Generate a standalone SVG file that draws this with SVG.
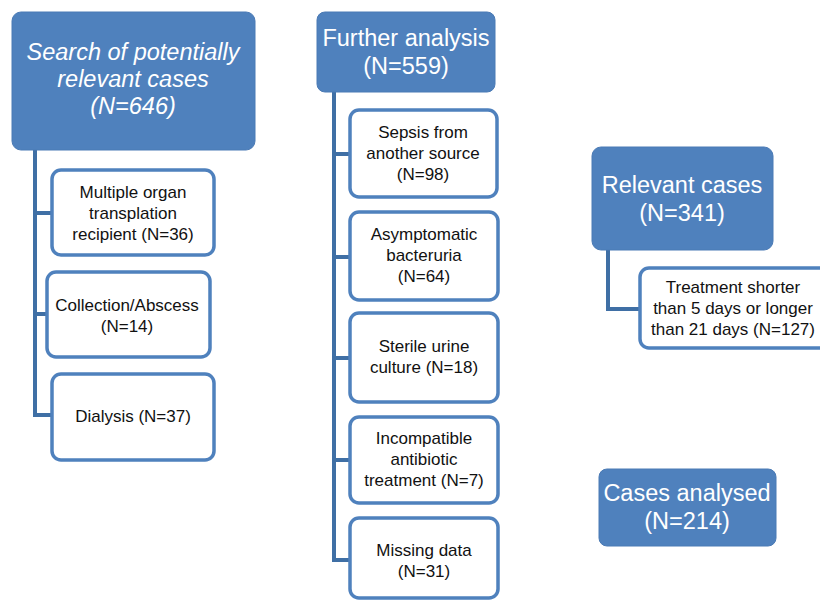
<svg xmlns="http://www.w3.org/2000/svg" width="820" height="600" viewBox="0 0 820 600">
<style>
.hd{fill:#4F81BD;stroke:#4A7AB5;stroke-width:1}
.ch{fill:#FFFFFF;stroke:#4F81BD;stroke-width:3.5}
.ht{font-family:"Liberation Sans",Arial,sans-serif;font-size:23.5px;fill:#FFFFFF;text-anchor:middle}
.it{font-style:italic}
.ct{font-family:"Liberation Sans",Arial,sans-serif;font-size:17px;fill:#111111;text-anchor:middle}
.cn{fill:none;stroke:#3F6FA5;stroke-width:4}
</style>
<rect width="820" height="600" fill="#FFFFFF"/>
<g id="connectors">
<path class="cn" d="M35 150 V415 H52 M35 213 H52 M35 314 H47"/>
<path class="cn" d="M334 92 V560 H350 M334 154 H350 M334 257 H350 M334 358 H350 M334 460 H350"/>
<path class="cn" d="M608 250 V309 H640"/>
</g>
<g id="search">
<rect class="hd" x="12" y="12" width="243" height="138" rx="9"/>
<text class="ht it" x="133" y="60">Search of potentially</text>
<text class="ht it" x="133" y="87">relevant cases</text>
<text class="ht it" x="133" y="114">(N=646)</text>
</g>
<g id="multiple">
<rect class="ch" x="52" y="170" width="162" height="85" rx="9"/>
<text class="ct" x="133" y="198">Multiple organ</text>
<text class="ct" x="133" y="219">transplation</text>
<text class="ct" x="133" y="240">recipient (N=36)</text>
</g>
<g id="collection">
<rect class="ch" x="47" y="272" width="163" height="85" rx="9"/>
<text class="ct" x="127" y="311">Collection/Abscess</text>
<text class="ct" x="127" y="332">(N=14)</text>
</g>
<g id="dialysis">
<rect class="ch" x="52" y="374" width="162" height="86" rx="9"/>
<text class="ct" x="133" y="422">Dialysis (N=37)</text>
</g>
<g id="further">
<rect class="hd" x="317" y="12" width="178" height="80" rx="8"/>
<text class="ht" x="406" y="46">Further analysis</text>
<text class="ht" x="406" y="74">(N=559)</text>
</g>
<g id="sepsis">
<rect class="ch" x="350" y="110" width="147" height="87" rx="9"/>
<text class="ct" x="423" y="138">Sepsis from</text>
<text class="ct" x="423" y="159">another source</text>
<text class="ct" x="423" y="180">(N=98)</text>
</g>
<g id="asymptomatic">
<rect class="ch" x="350" y="212" width="148" height="88" rx="9"/>
<text class="ct" x="424" y="240">Asymptomatic</text>
<text class="ct" x="424" y="261">bacteruria</text>
<text class="ct" x="424" y="282">(N=64)</text>
</g>
<g id="sterile">
<rect class="ch" x="350" y="313" width="148" height="89" rx="9"/>
<text class="ct" x="424" y="352">Sterile urine</text>
<text class="ct" x="424" y="373">culture (N=18)</text>
</g>
<g id="incompatible">
<rect class="ch" x="350" y="417" width="148" height="86" rx="9"/>
<text class="ct" x="424" y="444">Incompatible</text>
<text class="ct" x="424" y="465">antibiotic</text>
<text class="ct" x="424" y="486">treatment (N=7)</text>
</g>
<g id="missing">
<rect class="ch" x="350" y="518" width="148" height="80" rx="9"/>
<text class="ct" x="424" y="556">Missing data</text>
<text class="ct" x="424" y="577">(N=31)</text>
</g>
<g id="relevant">
<rect class="hd" x="592" y="147" width="181" height="103" rx="9"/>
<text class="ht" x="682" y="193">Relevant cases</text>
<text class="ht" x="682" y="221">(N=341)</text>
</g>
<g id="treatment">
<rect class="ch" x="640" y="268" width="200" height="80" rx="9"/>
<text class="ct" x="733" y="293">Treatment shorter</text>
<text class="ct" x="733" y="314">than 5 days or longer</text>
<text class="ct" x="733" y="335">than 21 days (N=127)</text>
</g>
<g id="analysed">
<rect class="hd" x="599" y="469" width="177" height="77" rx="8"/>
<text class="ht" x="687" y="501">Cases analysed</text>
<text class="ht" x="687" y="529">(N=214)</text>
</g>
</svg>
